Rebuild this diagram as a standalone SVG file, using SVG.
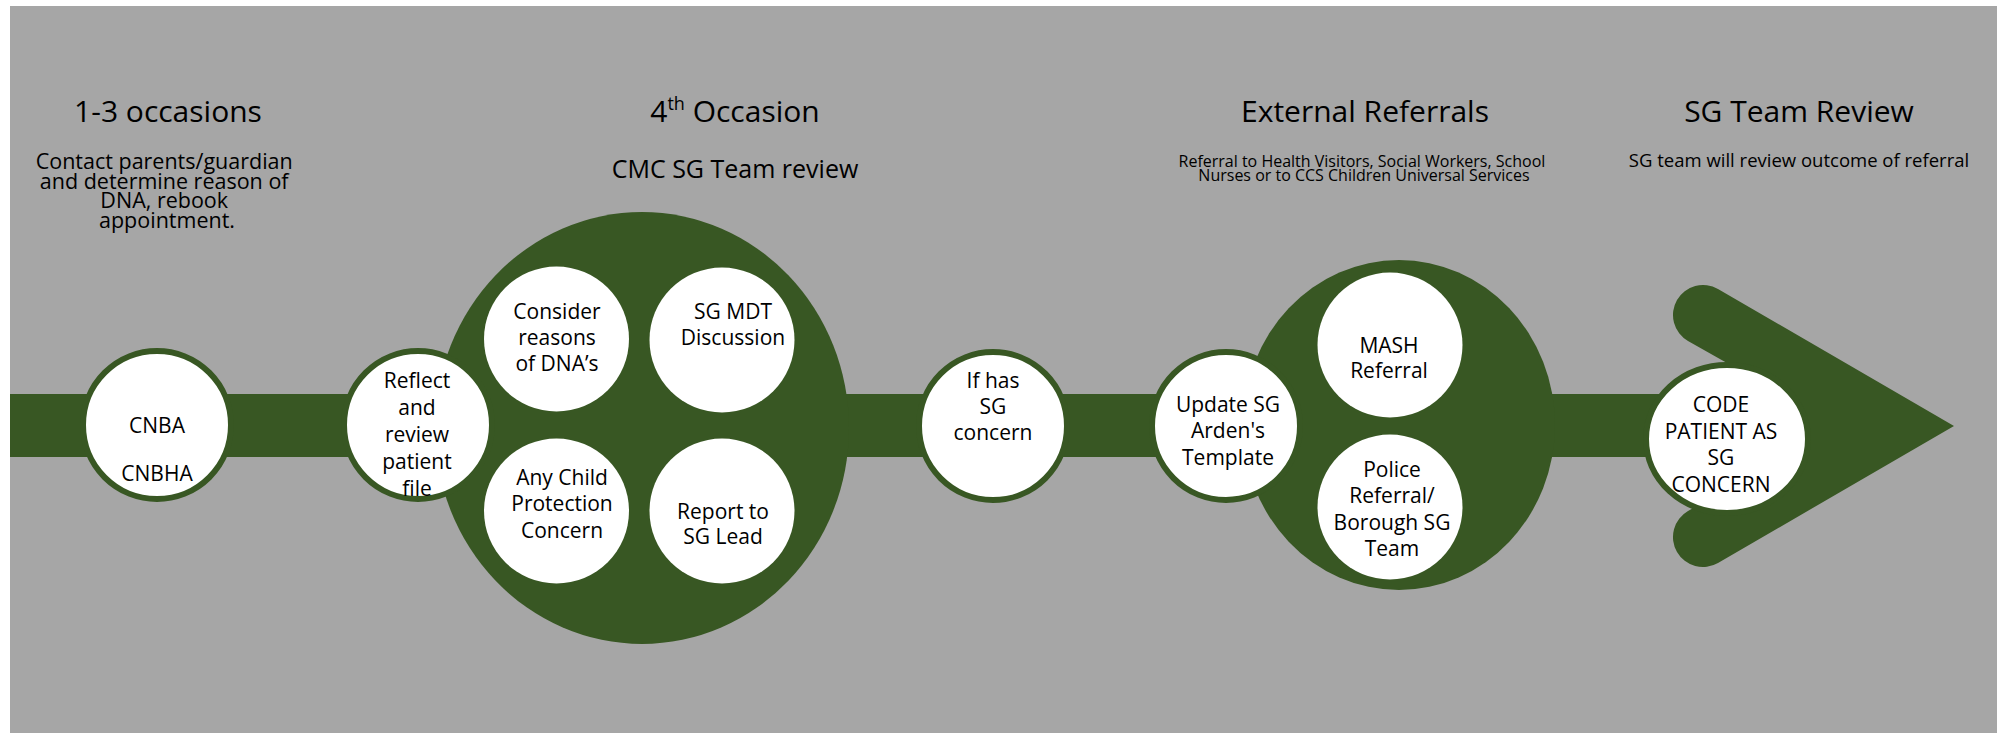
<svg xmlns="http://www.w3.org/2000/svg" width="2001" height="733" viewBox="0 0 2001 733">
  <style>
    .bg { fill: #a6a6a6; }
    .green { fill: #385723; }
    .node { fill: #ffffff; stroke: #385723; stroke-width: 6; }
    .inner { fill: #ffffff; }
    text { font-family: "Open Sans", "Noto Sans", "Liberation Sans", sans-serif; fill: #000000; text-anchor: middle; }
    .t { font-size: 21px; }
    .h { font-size: 30px; }
  </style>

  <!-- canvas -->
  <rect width="2001" height="733" fill="#ffffff"/>
  <rect class="bg" x="10" y="6" width="1987" height="727"/>

  <!-- headings -->
  <g id="headings">
    <text class="h" x="168" y="122">1-3 occasions</text>
    <text style="font-size:21.5px">
      <tspan x="167" y="169">Contact parents/guardian</tspan>
      <tspan x="167" y="188.5">and determine reason of</tspan>
      <tspan x="167" y="208">DNA, rebook</tspan>
      <tspan x="167" y="227.5">appointment.</tspan>
    </text>

    <text class="h" x="735" y="122">4<tspan font-size="18" dy="-12">th</tspan><tspan dy="12"> Occasion</tspan></text>
    <text x="735" y="178" style="font-size:25px">CMC SG Team review</text>

    <text class="h" x="1365" y="122">External Referrals</text>
    <text style="font-size:16px">
      <tspan x="1364" y="167">Referral to Health Visitors, Social Workers, School</tspan>
      <tspan x="1364" y="180.5">Nurses or to CCS Children Universal Services</tspan>
    </text>

    <text class="h" x="1799" y="122">SG Team Review</text>
    <text x="1799" y="167" style="font-size:18.5px">SG team will review outcome of referral</text>
  </g>

  <!-- flow line and arrowhead -->
  <g id="connectors">
    <rect class="green" x="10" y="394" width="1760" height="63"/>
    <path class="green" d="M1718,289 L1954,426 L1718,563 A30,30 0 0 1 1688,511 L1750,476 L1750,376 L1688,341 A30,30 0 0 1 1718,289 Z"/>
  </g>

  <!-- stage 1 -->
  <g id="cnba">
    <circle class="node" cx="157" cy="425" r="74"/>
    <text class="t" x="157" y="433">CNBA</text>
    <text class="t" x="157" y="481">CNBHA</text>
  </g>

  <!-- stage 2: 4th occasion cluster -->
  <g id="occasion4">
    <ellipse class="green" cx="642" cy="428" rx="207" ry="216"/>
  </g>
  <g id="consider">
    <circle class="inner" cx="556.5" cy="339" r="72.5"/>
    <text class="t"><tspan x="557" y="319">Consider</tspan><tspan x="557" y="345">reasons</tspan><tspan x="557" y="371">of DNA’s</tspan></text>
  </g>
  <g id="mdt">
    <circle class="inner" cx="722" cy="340" r="72.5"/>
    <text class="t"><tspan x="733" y="319">SG MDT</tspan><tspan x="733" y="345">Discussion</tspan></text>
  </g>
  <g id="child-protection">
    <circle class="inner" cx="556.5" cy="511" r="72.5"/>
    <text class="t"><tspan x="562" y="485">Any Child</tspan><tspan x="562" y="511">Protection</tspan><tspan x="562" y="538">Concern</tspan></text>
  </g>
  <g id="report">
    <circle class="inner" cx="722" cy="511" r="72.5"/>
    <text class="t"><tspan x="723" y="519">Report to</tspan><tspan x="723" y="544">SG Lead</tspan></text>
  </g>
  <g id="reflect">
    <circle class="node" cx="418" cy="425" r="74"/>
    <text class="t"><tspan x="417" y="388">Reflect</tspan><tspan x="417" y="415">and</tspan><tspan x="417" y="442">review</tspan><tspan x="417" y="469">patient</tspan><tspan x="417" y="496">file</tspan></text>
  </g>

  <!-- stage 3 -->
  <g id="sg-concern">
    <circle class="node" cx="993" cy="426" r="74"/>
    <text class="t"><tspan x="993" y="388">If has</tspan><tspan x="993" y="414">SG</tspan><tspan x="993" y="440">concern</tspan></text>
  </g>

  <!-- stage 4: external referrals cluster -->
  <g id="external">
    <ellipse class="green" cx="1399" cy="425" rx="156" ry="165"/>
  </g>
  <g id="mash">
    <circle class="inner" cx="1390" cy="345" r="72.5"/>
    <text class="t"><tspan x="1389" y="353">MASH</tspan><tspan x="1389" y="378">Referral</tspan></text>
  </g>
  <g id="police">
    <circle class="inner" cx="1390" cy="507" r="72.5"/>
    <text class="t"><tspan x="1392" y="477">Police</tspan><tspan x="1392" y="503">Referral/</tspan><tspan x="1392" y="530">Borough SG</tspan><tspan x="1392" y="556">Team</tspan></text>
  </g>
  <g id="update">
    <circle class="node" cx="1226" cy="426" r="74"/>
    <text class="t"><tspan x="1228" y="412">Update SG</tspan><tspan x="1228" y="438">Arden's</tspan><tspan x="1228" y="465">Template</tspan></text>
  </g>

  <!-- stage 5 -->
  <g id="code">
    <ellipse class="node" cx="1727" cy="439" rx="81" ry="74"/>
    <text class="t"><tspan x="1721" y="412">CODE</tspan><tspan x="1721" y="438.5">PATIENT AS</tspan><tspan x="1721" y="465">SG</tspan><tspan x="1721" y="491.5">CONCERN</tspan></text>
  </g>
</svg>
